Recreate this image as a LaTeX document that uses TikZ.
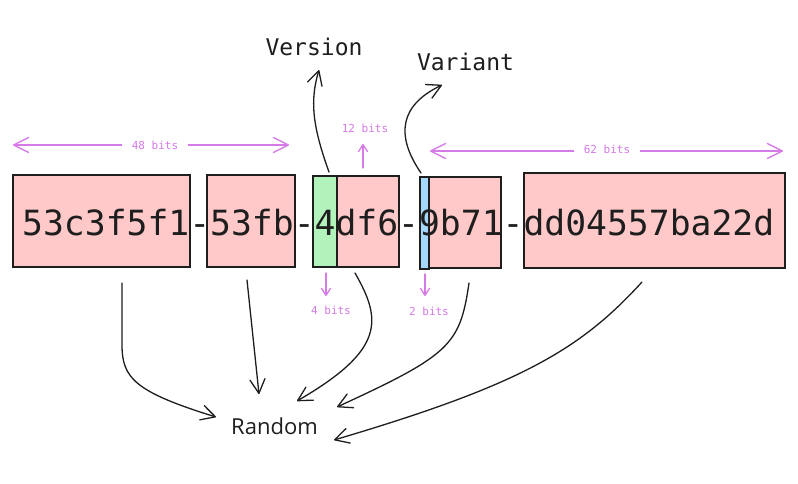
\documentclass[tikz,border=0pt]{standalone}
\usepackage{fontspec}
\setmonofont{DejaVu Sans Mono}
\newfontfamily\handfont{Open Sans}
\usetikzlibrary{arrows.meta,calc}
\definecolor{ink}{HTML}{1E1E1E}
\definecolor{pinkfill}{HTML}{FFC9C9}
\definecolor{greenfill}{HTML}{B2F2BB}
\definecolor{bluefill}{HTML}{A5D8FF}
\definecolor{anno}{RGB}{214,122,232}
\begin{document}
\begin{tikzpicture}[x=1pt,y=-1pt,
  seg/.style={draw=ink, line width=1.4pt, inner sep=0pt, outer sep=0pt},
  pinkseg/.style={seg, fill=pinkfill},
  greenseg/.style={seg, fill=greenfill},
  blueseg/.style={seg, fill=bluefill},
  uuidtext/.style={inner sep=0pt, text=ink, font=\ttfamily\fontsize{34.7}{40}\selectfont},
  biglabel/.style={inner sep=0pt, text=ink, font=\ttfamily\fontsize{23}{27}\selectfont},
  handlabel/.style={inner sep=0pt, text=ink, font=\handfont\fontsize{22}{26}\selectfont},
  bitlabel/.style={inner sep=0pt, inner xsep=10pt, text=anno, font=\ttfamily\fontsize{11}{13}\selectfont},
  conn/.style={draw=ink, line width=1.3pt, line cap=round, -{Straight Barb[length=14pt,width=15pt,round]}},
  span/.style={draw=anno, line width=1.3pt, line cap=round, -{Straight Barb[length=15pt,width=15pt,round]}},
  tick/.style={draw=anno, line width=1.3pt, line cap=round, -{Straight Barb[length=7pt,width=9pt,round]}}
]
\useasboundingbox (0,0) rectangle (798,483);
\fill[white] (0,0) rectangle (798,483);

% segments
\node[pinkseg, minimum width=177pt, minimum height=92pt] (b1) at (101.5,221) {};
\node[pinkseg, minimum width=88pt, minimum height=92pt] (b2) at (251,221) {};
\node[greenseg, minimum width=24pt, minimum height=91pt] (bg) at (325,221.5) {};
\node[pinkseg, minimum width=62pt, minimum height=91pt] (b3) at (368,221.5) {};
\node[blueseg, minimum width=9pt, minimum height=92pt] (bb) at (424.5,223) {};
\node[pinkseg, minimum width=72pt, minimum height=91pt] (b4) at (465,222.5) {};
\node[pinkseg, minimum width=261pt, minimum height=95pt] (b5) at (654.5,220.5) {};

\node[uuidtext, anchor=base west] (uuid) at (22,235) {53c3f5f1-53fb-4df6-9b71-dd04557ba22d};

% labels
\node[biglabel] (version) at (314,47) {Version};
\node[biglabel] (variant) at (465.5,62) {Variant};
\node[handlabel] (random) at (274.5,426) {Random};

\node[bitlabel] (l48) at (155,145) {48 bits};
\node[bitlabel] (l62) at (607,149) {62 bits};
\node[bitlabel] (l12) at (365,128) {12 bits};
\node[bitlabel] (l4) at (331,310) {4 bits};
\node[bitlabel] (l2) at (429,311) {2 bits};

% span arrows
\coordinate (e48l) at (13,145);
\coordinate (e48r) at (289,145);
\coordinate (e62l) at (430,151);
\coordinate (e62r) at (783,151);
\draw[span] (l48.west |- e48l) -- (e48l);
\draw[span] (l48.east |- e48r) -- (e48r);
\draw[span] (l62.west |- e62l) -- (e62l);
\draw[span] (l62.east |- e62r) -- (e62r);

% tick arrows
\coordinate (t12s) at (363,168);
\coordinate (t12e) at (363,144);
\draw[tick] (t12s) -- (t12e);
\coordinate (t4s) at (326,273);
\coordinate (t4e) at (326,296);
\draw[tick] (t4s) -- (t4e);
\coordinate (t2s) at (425,274);
\coordinate (t2e) at (425,296);
\draw[tick] (t2s) -- (t2e);

% version / variant connectors
\coordinate (vs) at (329,172);
\coordinate (ve) at (319,70);
\draw[conn] (vs) .. controls (312,125) and (310,100) .. (ve);
\coordinate (ws) at (421,173);
\coordinate (we) at (442,85);
\draw[conn] (ws) .. controls (395,135) and (400,105) .. (we);

% random connectors
\coordinate (s1) at (122,283);
\coordinate (r1) at (216,417);
\draw[conn] (s1) -- (122,345) .. controls (122,378) and (135,392) .. (r1);
\coordinate (s2) at (247,280);
\coordinate (r2) at (259,394);
\draw[conn] (s2) -- (r2);
\coordinate (s3) at (355,273);
\coordinate (r3) at (297,401);
\draw[conn] (s3) .. controls (382,320) and (385,350) .. (r3);
\coordinate (s4) at (469,283);
\coordinate (r4) at (337,407);
\draw[conn] (s4) .. controls (460,345) and (450,355) .. (r4);
\coordinate (s5) at (642,282);
\coordinate (r5) at (334,440);
\draw[conn] (s5) .. controls (580,350) and (520,385) .. (r5);
\end{tikzpicture}
\end{document}
